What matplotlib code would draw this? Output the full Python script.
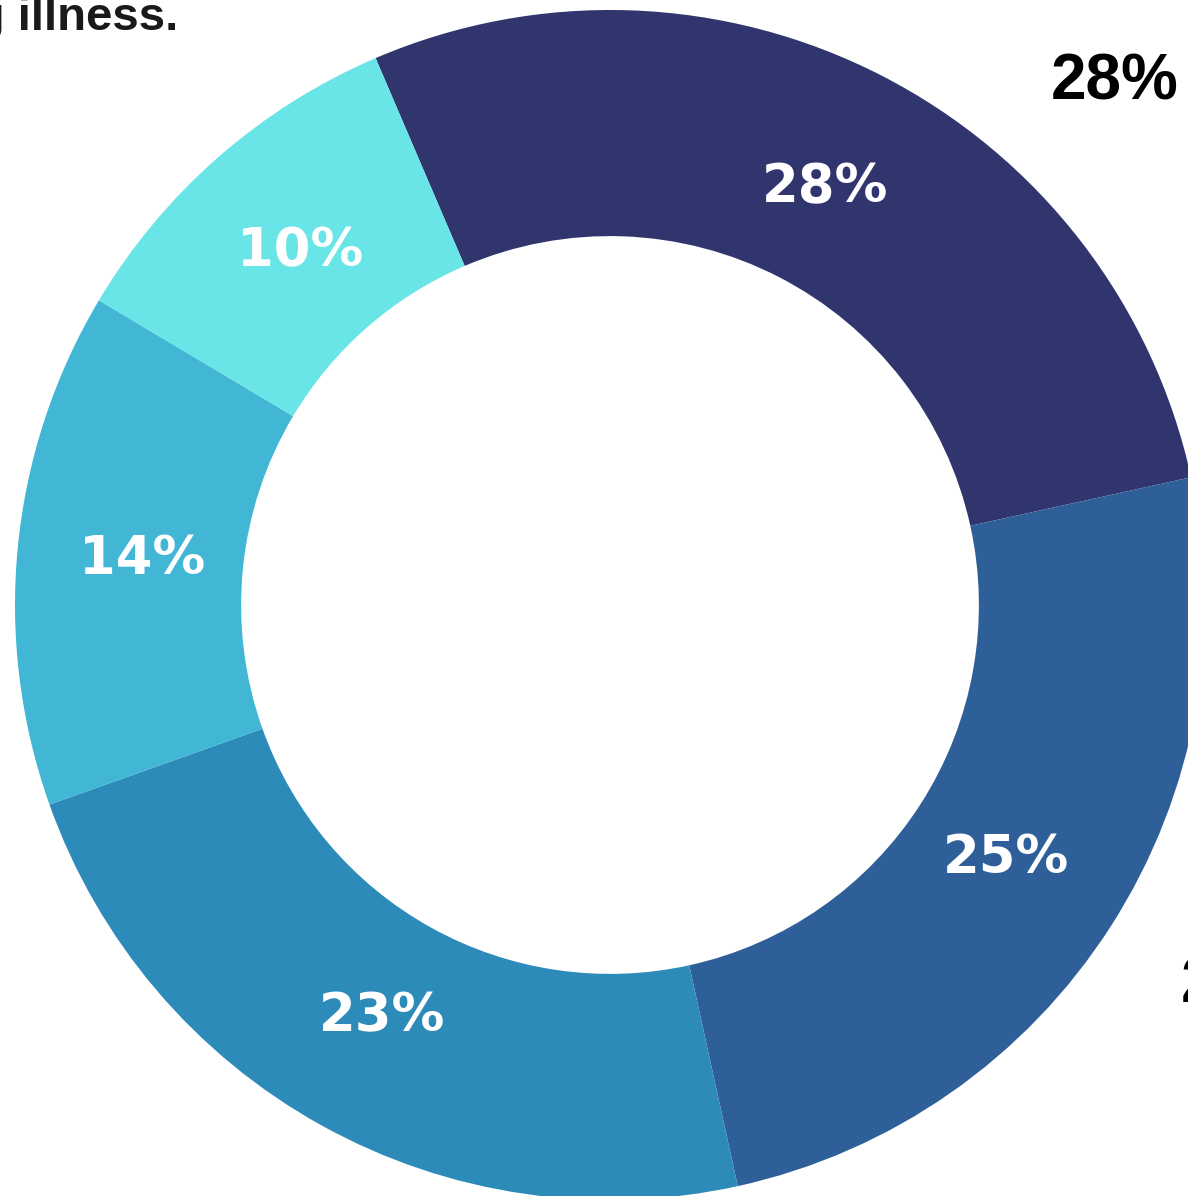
import numpy as np
import matplotlib.pyplot as plt

# slice values, clockwise from the top
shares = [28, 25, 23, 14, 10]
colors = ['#31356e', '#2f5f98', '#2d8bba', '#41b7d5', '#69e5e7']
outside_labels = ['28%', '25%']
title_tail = 'living with an ongoing illness.'

W, H = 1188, 1196
cx, cy, R = 610, 591, 595  # centre (from bottom) and radius in pixels

fig = plt.figure(figsize=(W / 100, H / 100), dpi=100)
ax = fig.add_axes([0, 0, 1, 1])

wedges, texts, autotexts = ax.pie(
    shares, colors=colors, startangle=113.2, counterclock=False,
    radius=1, wedgeprops=dict(width=0.38, linewidth=0),
    autopct='%d%%', pctdistance=0.79,
    textprops=dict(color='white', fontsize=38, fontweight='bold',
                   family='DejaVu Sans'))

ax.set_aspect('auto')
ax.set_xlim(-cx / R, (W - cx) / R)
ax.set_ylim(-cy / R, (H - cy) / R)
ax.axis('off')

# outer labels (partially cropped in the reference)
ax.text(np.cos(np.radians(46)) * 1.22, np.sin(np.radians(46)) * 1.22,
        outside_labels[0], ha='center', va='center', fontsize=46,
        fontweight='bold', color='black', family='Liberation Sans')
ax.text(np.cos(np.radians(-33.5)) * 1.16 + 0.1, np.sin(np.radians(-33.5)) * 1.16,
        outside_labels[1], ha='center', va='center', fontsize=46,
        fontweight='bold', color='black', family='Liberation Sans')

fig.text(178 / W, 1 - 18 / H, title_tail, ha='right', va='center',
         fontsize=34, fontweight='bold', color='#1a1a1a',
         family='Liberation Sans')

fig.savefig('out.png', dpi=100, facecolor='white')
